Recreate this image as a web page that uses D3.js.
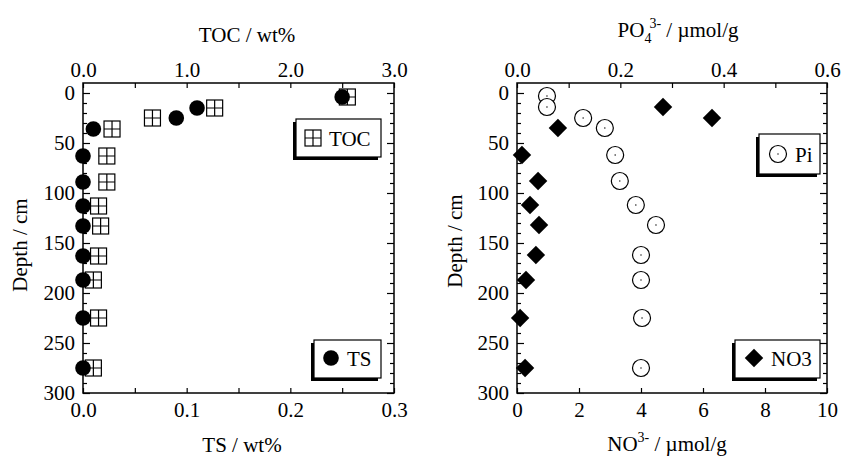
<!DOCTYPE html>
<html>
<head>
<meta charset="utf-8">
<script src="https://cdn.jsdelivr.net/npm/d3@7"></script>
<style>
  body { margin: 0; background: #fff; }
  svg, svg text { font-family: "Liberation Serif", "Times New Roman", serif; }
  .tick text { font-size: 21px; fill: #000; font-family: "Liberation Serif", "Times New Roman", serif; }
  .tick line { stroke: #000; stroke-width: 1.2; }
</style>
</head>
<body>
<svg id="chart" width="842" height="458"></svg>
<script>
// depth (cm) of each sample
const depthSed = [4, 15, 25, 36, 63, 89, 113, 133, 163, 187, 225, 275];
const tsVals   = [0.25, 0.11, 0.09, 0.01, 0, 0, 0, 0, 0, 0, 0, 0];
const tocVals  = [2.55, 1.27, 0.67, 0.28, 0.23, 0.23, 0.15, 0.17, 0.15, 0.10, 0.15, 0.10];

const depthPi  = [3, 14, 25, 35, 62, 88, 112, 132, 162, 187, 225, 275];
const piVals   = [0.058, 0.058, 0.128, 0.170, 0.190, 0.199, 0.230, 0.269, 0.240, 0.240, 0.242, 0.240];

const depthNO3 = [14, 25, 35, 62, 88, 112, 132, 162, 187, 225, 275];
const no3Vals  = [4.71, 6.29, 1.32, 0.16, 0.68, 0.42, 0.71, 0.61, 0.29, 0.10, 0.26];

const depthTicks = [0, 50, 100, 150, 200, 250, 300];
const tocTicks = [0, 0.5, 1, 1.5, 2, 2.5, 3];
const tsTicks = [0, 0.05, 0.1, 0.15, 0.2, 0.25, 0.3];
const po4Ticks = [0, 0.1, 0.2, 0.3, 0.4, 0.5, 0.6];
const no3Ticks = [0, 2, 4, 6, 8, 10];

const svg = d3.select("#chart");
const yTop = 83, yBottom = 393;

const y = d3.scaleLinear().domain([-10, 300]).range([yTop, yBottom]);
const minorDepth = d3.range(0, 301, 10).filter(d => d % 50 !== 0);

function frame(g, x0, x1) {
  // depth axes, labelled on the left only
  g.append("g").attr("transform", `translate(${x0},0)`)
    .call(d3.axisLeft(y).tickValues(depthTicks).tickSize(-7).tickSizeOuter(0).tickPadding(8));
  g.append("g").attr("transform", `translate(${x0},0)`)
    .call(d3.axisLeft(y).tickValues(minorDepth).tickSize(-4).tickSizeOuter(0).tickFormat(""));
  g.append("g").attr("transform", `translate(${x1},0)`)
    .call(d3.axisRight(y).tickValues(depthTicks).tickSize(-7).tickSizeOuter(0).tickFormat(""));
  g.append("g").attr("transform", `translate(${x1},0)`)
    .call(d3.axisRight(y).tickValues(minorDepth).tickSize(-4).tickSizeOuter(0).tickFormat(""));
  g.selectAll(".domain").remove();
}

function legend(g, x, yy, w, h) {
  g.append("rect").attr("x", x - 3).attr("y", yy + 3).attr("width", w).attr("height", h).attr("fill", "#000");
  g.append("rect").attr("x", x).attr("y", yy).attr("width", w).attr("height", h)
    .attr("fill", "#fff").attr("stroke", "#000").attr("stroke-width", 1.2);
}

// ---------- left panel: TOC / TS ----------
const L = svg.append("g");
const xL0 = 83, xL1 = 394;
const xToc = d3.scaleLinear().domain([0, 3]).range([xL0, xL1]);
const xTs = d3.scaleLinear().domain([0, 0.3]).range([xL0, xL1]);

frame(L, xL0, xL1);
L.append("g").attr("transform", `translate(0,${yTop})`)
  .call(d3.axisTop(xToc).tickValues(tocTicks).tickSize(-5).tickSizeOuter(0).tickPadding(6)
    .tickFormat(d => d % 1 === 0 ? d3.format(".1f")(d) : ""));
L.append("g").attr("transform", `translate(0,${yBottom})`)
  .call(d3.axisBottom(xTs).tickValues(tsTicks).tickSize(-5).tickSizeOuter(0).tickPadding(9)
    .tickFormat(d => Math.round(d * 100) % 10 === 0 ? d3.format(".1f")(d) : ""));
L.selectAll(".domain").remove();
L.append("rect").attr("x", xL0).attr("y", yTop).attr("width", xL1 - xL0).attr("height", yBottom - yTop)
  .attr("fill", "none").attr("stroke", "#000").attr("stroke-width", 1.5);

function tocMark(g, cx, cy) {
  g.append("rect").attr("x", cx - 8).attr("y", cy - 8).attr("width", 16).attr("height", 16)
    .attr("fill", "#fff").attr("stroke", "#000").attr("stroke-width", 1.2);
  g.append("path").attr("d", `M${cx - 8},${cy}H${cx + 8}M${cx},${cy - 8}V${cy + 8}`)
    .attr("stroke", "#000").attr("stroke-width", 1.2);
}

const tocG = L.append("g");
tocVals.forEach((v, i) => tocMark(tocG, xToc(v), y(depthSed[i])));
L.append("g").selectAll("circle").data(tsVals).join("circle")
  .attr("cx", d => xTs(d)).attr("cy", (d, i) => y(depthSed[i])).attr("r", 7.8).attr("fill", "#000");

legend(L, 296, 119, 85, 38);
tocMark(L, 313, 138);
L.append("text").attr("x", 329).attr("y", 146).attr("font-size", 21).text("TOC");
legend(L, 314, 340, 67, 38);
L.append("circle").attr("cx", 331).attr("cy", 358).attr("r", 7.8).attr("fill", "#000");
L.append("text").attr("x", 347).attr("y", 366).attr("font-size", 21).text("TS");

L.append("text").attr("x", 247).attr("y", 42).attr("text-anchor", "middle").attr("font-size", 21).text("TOC / wt%");
L.append("text").attr("x", 242).attr("y", 452).attr("text-anchor", "middle").attr("font-size", 21).text("TS / wt%");
L.append("text").attr("transform", "translate(27,245) rotate(-90)").attr("text-anchor", "middle")
  .attr("font-size", 21).text("Depth / cm");

// ---------- right panel: PO4 / NO3 ----------
const R = svg.append("g");
const xR0 = 517, xR1 = 827;
const xPo4 = d3.scaleLinear().domain([0, 0.6]).range([xR0, xR1]);
const xNo3 = d3.scaleLinear().domain([0, 10]).range([xR0, xR1]);

frame(R, xR0, xR1);
R.append("g").attr("transform", `translate(0,${yTop})`)
  .call(d3.axisTop(xPo4).tickValues(po4Ticks).tickSize(-5).tickSizeOuter(0).tickPadding(6)
    .tickFormat(d => Math.round(d * 10) % 2 === 0 ? d3.format(".1f")(d) : ""));
R.append("g").attr("transform", `translate(0,${yBottom})`)
  .call(d3.axisBottom(xNo3).tickValues(no3Ticks).tickSize(-5).tickSizeOuter(0).tickPadding(9)
    .tickFormat(d3.format("d")));
R.selectAll(".domain").remove();
R.append("rect").attr("x", xR0).attr("y", yTop).attr("width", xR1 - xR0).attr("height", yBottom - yTop)
  .attr("fill", "none").attr("stroke", "#000").attr("stroke-width", 1.5);

function piMark(g, cx, cy) {
  g.append("circle").attr("cx", cx).attr("cy", cy).attr("r", 8.5)
    .attr("fill", "#fff").attr("stroke", "#000").attr("stroke-width", 1.2);
  g.append("circle").attr("cx", cx).attr("cy", cy).attr("r", 0.7).attr("fill", "#000");
}
const diamond = d3.symbol().type(d3.symbolSquare).size(170);
function no3Mark(g, cx, cy) {
  g.append("path").attr("d", diamond()).attr("transform", `translate(${cx},${cy}) rotate(45)`).attr("fill", "#000");
}

const piG = R.append("g");
piVals.forEach((v, i) => piMark(piG, xPo4(v), y(depthPi[i])));
const noG = R.append("g");
no3Vals.forEach((v, i) => no3Mark(noG, xNo3(v), y(depthNO3[i])));

legend(R, 759, 134, 61, 40);
piMark(R, 778, 154);
R.append("text").attr("x", 795).attr("y", 162).attr("font-size", 21).text("Pi");
legend(R, 735, 340, 85, 38);
no3Mark(R, 754, 358);
R.append("text").attr("x", 771).attr("y", 366).attr("font-size", 21).text("NO3");

const t1 = R.append("text").attr("x", 678).attr("y", 37).attr("text-anchor", "middle").attr("font-size", 21);
t1.append("tspan").text("PO");
t1.append("tspan").attr("font-size", 14).attr("dy", 6).text("4");
t1.append("tspan").attr("font-size", 14).attr("dy", -15).attr("dx", -2).text("3-");
t1.append("tspan").attr("dy", 9).text(" / \u00b5mol/g");

const t2 = R.append("text").attr("x", 667).attr("y", 451).attr("text-anchor", "middle").attr("font-size", 21);
t2.append("tspan").text("NO");
t2.append("tspan").attr("font-size", 14).attr("dy", -9).text("3-");
t2.append("tspan").attr("dy", 9).text(" / \u00b5mol/g");

R.append("text").attr("transform", "translate(462,241) rotate(-90)").attr("text-anchor", "middle")
  .attr("font-size", 21).text("Depth / cm");
</script>
</body>
</html>
